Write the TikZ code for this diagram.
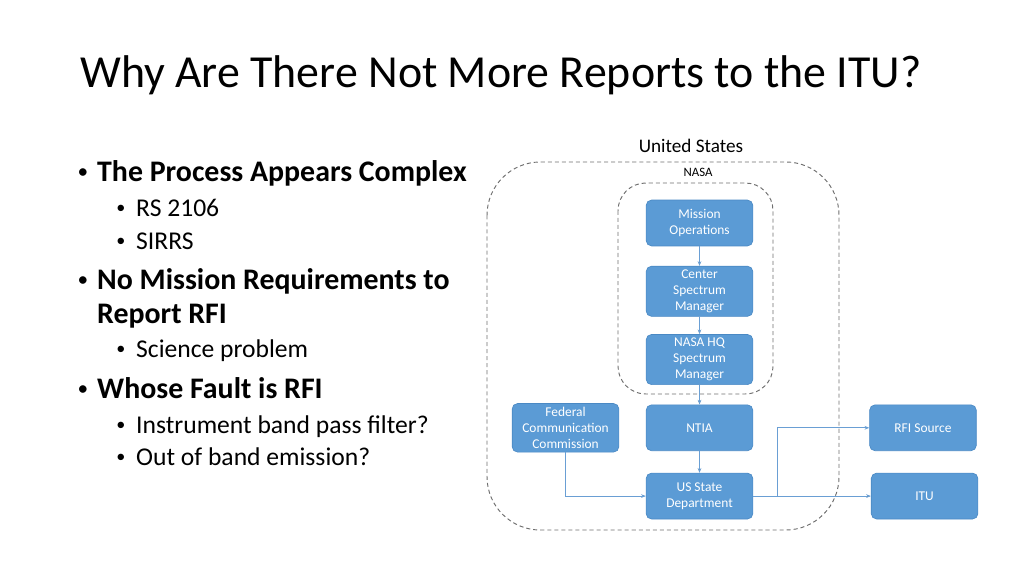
\documentclass[tikz,border=0pt]{standalone}
\usepackage{fontspec}
\setmainfont{Carlito}
\usepackage{xcolor}
\usetikzlibrary{positioning, arrows.meta}
\definecolor{boxblue}{HTML}{5B9BD5}
\definecolor{boxline}{HTML}{4A89C4}
\definecolor{linkblue}{HTML}{6A9FD4}
\definecolor{boundgray}{HTML}{6F6F6F}

\begin{document}
\begin{tikzpicture}[x=0.9375pt, y=-0.9375pt, node distance=64pt, on grid, >={Stealth[length=4.5pt, width=3.5pt]},
    office/.style={rectangle, rounded corners=5pt, fill=boxblue, draw=boxline, line width=0.6pt, text=white,
        minimum width=100pt, minimum height=43pt, align=center, font=\fontsize{12.6}{15}\selectfont},
    bound/.style={draw=boundgray, dash pattern=on 3.8pt off 2.8pt, line width=0.9pt},
    link/.style={draw=linkblue, line width=0.9pt, ->},
    lvlone/.style={anchor=base west, inner sep=0pt, font=\bfseries\fontsize{28}{32}\selectfont},
    lvltwo/.style={anchor=base west, inner sep=0pt, font=\fontsize{24}{28}\selectfont},
    dotone/.style={anchor=base, inner sep=0pt, font=\fontsize{20}{24}\selectfont},
    dottwo/.style={anchor=base, inner sep=0pt, font=\fontsize{17}{20}\selectfont}]
    \useasboundingbox (0,0) rectangle (1024,576);

    % title and bullets
    \node[anchor=base west, inner sep=0pt, font=\fontsize{43}{50}\selectfont] (title) at (80,88) {Why Are There Not More Reports to the ITU?};

    \node[lvlone] (p1) at (97,181) {The Process Appears Complex};
    \node[dotone] (p1dot) at (83,178) {•};
    \node[lvltwo] (p1a) at (136,216) {RS 2106};
    \node[dottwo] (p1adot) at (121,213) {•};
    \node[lvltwo] (p1b) at (136,249) {SIRRS};
    \node[dottwo] (p1bdot) at (121,246) {•};
    \node[lvlone] (p2) at (97,289) {No Mission Requirements to};
    \node[lvlone] (p2b) at (97,323) {Report RFI};
    \node[dotone] (p2dot) at (83,286) {•};
    \node[lvltwo] (p2a) at (136,357) {Science problem};
    \node[dottwo] (p2adot) at (121,354) {•};
    \node[lvlone] (p3) at (97,398) {Whose Fault is RFI};
    \node[dotone] (p3dot) at (83,395) {•};
    \node[lvltwo] (p3a) at (136,433) {Instrument band pass filter?};
    \node[dottwo] (p3adot) at (121,430) {•};
    \node[lvltwo] (p3b) at (136,465) {Out of band emission?};
    \node[dottwo] (p3bdot) at (121,462) {•};

    % diagram
    \draw[bound, rounded corners=50pt] (487,162) rectangle (839,530);
    \draw[bound, rounded corners=26pt] (618,183) rectangle (773,394);
    \node[font=\fontsize{18}{20}\selectfont] (us) at (691,146) {United States};
    \node[font=\fontsize{12}{14}\selectfont] (nasa) at (698,172) {NASA};

    \node[office] (mo) at (699.5,223) {Mission\\Operations};
    \node[office] (csm) [below=of mo] {Center\\Spectrum\\Manager};
    \node[office] (hq) [below=of csm] {NASA HQ\\Spectrum\\Manager};
    \node[office] (ntia) [below=of hq] {NTIA};
    \node[office] (usdos) [below=of ntia] {US State\\Department};
    \node[office] (fcc) [left=125.6pt of ntia] {Federal\\Communication\\Commission};
    \node[office] (rfi) [right=209.5pt of ntia] {RFI Source};
    \node[office] (itu) [right=211pt of usdos] {ITU};
    \coordinate[right=22.5pt of usdos.east] (split);

    \path[link]
    (mo) edge (csm)
    (csm) edge (hq)
    (hq) edge (ntia)
    (ntia) edge (usdos)
    (usdos) edge (itu);
    \draw[link] (fcc) |- (usdos);
    \draw[link] (split) |- (rfi);
\end{tikzpicture}
\end{document}
